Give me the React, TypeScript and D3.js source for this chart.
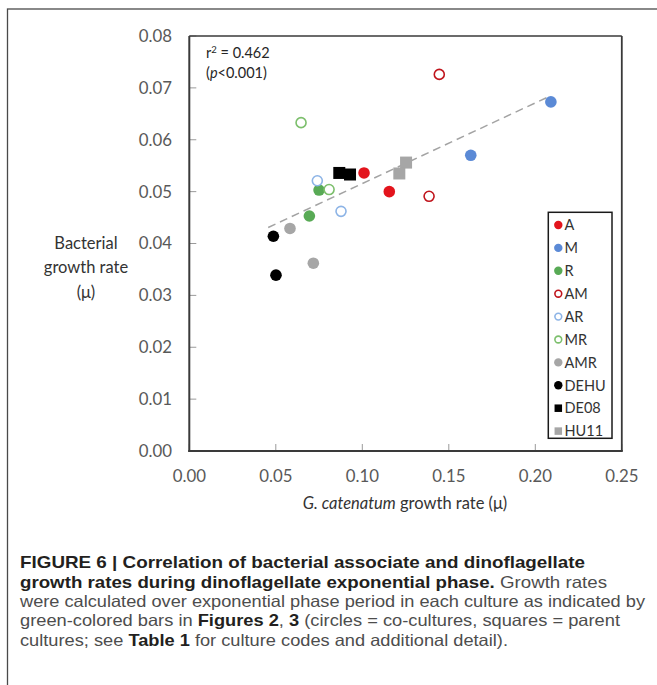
import React from "react";
import * as d3 from "d3";

// Culture groups and their paired growth-rate measurements (μ, per day)
const groups = ["A", "M", "R", "AM", "AR", "MR", "AMR", "DEHU", "DE08", "HU11"];
const dinoRate: number[][] = [
  [0.101, 0.1156],
  [0.209, 0.1627],
  [0.075, 0.0694],
  [0.1445, 0.1386],
  [0.074, 0.0877],
  [0.0646, 0.0808],
  [0.0582, 0.0717],
  [0.0486, 0.0501],
  [0.0867, 0.0929],
  [0.1253, 0.1214],
];
const bactRate: number[][] = [
  [0.0536, 0.05],
  [0.0673, 0.057],
  [0.0503, 0.0453],
  [0.0726, 0.0491],
  [0.0521, 0.0462],
  [0.0633, 0.0504],
  [0.0429, 0.0362],
  [0.0414, 0.0339],
  [0.0536, 0.0533],
  [0.0556, 0.0535],
];
const xTicks = [0, 0.05, 0.1, 0.15, 0.2, 0.25];
const yTicks = [0, 0.01, 0.02, 0.03, 0.04, 0.05, 0.06, 0.07, 0.08];
const statLines = ["r² = 0.462", "(p<0.001)"];

// Marker styling per group
const groupColor = ["#e3141c", "#5b8ad6", "#58aa55", "#c0141c", "#8db4e6", "#7cbf6c", "#a6a6a6", "#000000", "#000000", "#a6a6a6"];
const groupFilled = [true, true, true, false, false, false, true, true, true, true];
const groupSquare = [false, false, false, false, false, false, false, false, true, true];

const W = 657;
const H = 685;
const plot = { left: 189.3, right: 621.8, top: 36, bottom: 451 };

const tickFont = "Lato, 'Open Sans', sans-serif";
const capFont = "'Liberation Sans', Arial, sans-serif";

export default function App() {
  const x = d3.scaleLinear().domain([0, 0.25]).range([plot.left, plot.right]);
  const y = d3.scaleLinear().domain([0, 0.08]).range([plot.bottom, plot.top]);

  const points = groups.flatMap((g, gi) =>
    dinoRate[gi].map((dx, k) => ({ gi, dx, by: bactRate[gi][k] }))
  );

  // Least-squares trend line across all cultures
  const mx = d3.mean(points, (p) => p.dx) as number;
  const my = d3.mean(points, (p) => p.by) as number;
  const sxy = d3.sum(points, (p) => (p.dx - mx) * (p.by - my));
  const sxx = d3.sum(points, (p) => (p.dx - mx) ** 2);
  const slope = sxy / sxx;
  const intercept = my - slope * mx;
  const [xmin, xmax] = d3.extent(points, (p) => p.dx) as [number, number];
  const trend = d3.line<number>()
    .x((v) => x(v))
    .y((v) => y(intercept + slope * v))([xmin - 0.003, xmax]) as string;

  const fmt = d3.format(".2f");

  const marker = (gi: number, cx: number, cy: number, r: number, sq: number, key: string) => {
    if (groupSquare[gi]) {
      return <rect key={key} x={cx - sq / 2} y={cy - sq / 2} width={sq} height={sq} fill={groupColor[gi]} />;
    }
    if (groupFilled[gi]) {
      return <circle key={key} cx={cx} cy={cy} r={r} fill={groupColor[gi]} />;
    }
    return <circle key={key} cx={cx} cy={cy} r={r - 0.8} fill="#fff" stroke={groupColor[gi]} strokeWidth={1.6} />;
  };

  const legend = { x: 548.3, y: 212.3, w: 63.7, h: 226, row0: 225, step: 22.9 };

  const capX = 20;
  const capBase = [568.3, 587.7, 607, 626.4, 645.8];
  const bold = { fontWeight: 700, fill: "#231f20" } as const;
  const reg = { fontWeight: 400, fill: "#4d4d4d" } as const;

  return (
    <div style={{ position: "absolute", left: 0, top: 0 }}>
      <svg width={W} height={H} viewBox={`0 0 ${W} ${H}`} style={{ display: "block", background: "#fff" }}>
        {/* figure frame */}
        <rect x={7.5} y={9} width={700} height={700} fill="none" stroke="#4a4a4a" strokeWidth={1.3} />

        {/* y tick labels and marks */}
        {yTicks.map((t) => (
          <g key={`y${t}`}>
            <line x1={plot.left} x2={plot.left + 7} y1={y(t)} y2={y(t)} stroke="#9a9a9a" strokeWidth={1} />
            <text x={172} y={y(t)} dy="0.35em" textAnchor="end" fontFamily={tickFont} fontSize={16.8} fill="#595959">
              {fmt(t)}
            </text>
          </g>
        ))}
        {/* x tick labels and marks */}
        {xTicks.map((t) => (
          <g key={`x${t}`}>
            <line x1={x(t)} x2={x(t)} y1={plot.bottom} y2={plot.bottom - 7} stroke="#9a9a9a" strokeWidth={1} />
            <text x={x(t)} y={482} textAnchor="middle" fontFamily={tickFont} fontSize={16.8} fill="#595959">
              {fmt(t)}
            </text>
          </g>
        ))}

        {/* plot box */}
        <line x1={plot.left} x2={plot.right} y1={plot.top} y2={plot.top} stroke="#3a3a3a" strokeWidth={1.4} />
        <line x1={plot.right} x2={plot.right} y1={plot.top} y2={plot.bottom} stroke="#3a3a3a" strokeWidth={1.8} />
        <line x1={plot.left} x2={plot.left} y1={plot.top} y2={plot.bottom + 1} stroke="#3a3a3a" strokeWidth={2} />
        <line x1={plot.left - 1} x2={plot.right + 1} y1={plot.bottom} y2={plot.bottom} stroke="#3a3a3a" strokeWidth={2} />

        {/* trend line */}
        <path d={trend} fill="none" stroke="#a3a3a3" strokeWidth={1.5} strokeDasharray="8 5" />

        {/* data points */}
        {points.map((p, i) => marker(p.gi, x(p.dx), y(p.by), 5.8, 12, `p${i}`))}

        {/* statistics */}
        <text x={206} y={58} fontFamily={tickFont} fontSize={14.5} fill="#262626">
          r<tspan dy={-5} fontSize={9.5}>2</tspan>
          <tspan dy={5}>{statLines[0].slice(2)}</tspan>
        </text>
        <text x={206} y={78} fontFamily={tickFont} fontSize={14.5} fill="#262626">
          (<tspan fontStyle="italic">p</tspan>
          {statLines[1].slice(2)}
        </text>

        {/* legend */}
        <rect x={legend.x} y={legend.y} width={legend.w} height={legend.h} fill="#fff" stroke="#1a1a1a" strokeWidth={1.5} />
        {groups.map((g, gi) => {
          const ly = legend.row0 + gi * legend.step;
          return (
            <g key={`l${g}`}>
              {marker(gi, 558.3, ly, 4.2, 7.5, `lm${g}`)}
              <text x={564.5} y={ly} dy="0.36em" fontFamily={tickFont} fontSize={14.5} fill="#333">
                {g}
              </text>
            </g>
          );
        })}

        {/* axis titles */}
        <g fontFamily={tickFont} fontSize={16.5} fill="#333" textAnchor="middle">
          <text x={86} y={249}>Bacterial</text>
          <text x={86} y={273}>growth rate</text>
          <text x={86} y={298}>(μ)</text>
        </g>
        <text x={405} y={509} textAnchor="middle" fontFamily={tickFont} fontSize={16.5} fill="#333">
          <tspan fontStyle="italic">G. catenatum</tspan> growth rate (μ)
        </text>

        {/* caption */}
        <g fontFamily={capFont} fontSize={16.5}>
          <text x={capX} y={capBase[0]} textLength={565} lengthAdjust="spacingAndGlyphs">
            <tspan {...bold}>FIGURE 6 | Correlation of bacterial associate and dinoflagellate</tspan>
          </text>
          <text x={capX} y={capBase[1]} textLength={587} lengthAdjust="spacingAndGlyphs">
            <tspan {...bold}>growth rates during dinoflagellate exponential phase.</tspan>
            <tspan {...reg}> Growth rates</tspan>
          </text>
          <text x={capX} y={capBase[2]} textLength={625} lengthAdjust="spacingAndGlyphs">
            <tspan {...reg}>were calculated over exponential phase period in each culture as indicated by</tspan>
          </text>
          <text x={capX} y={capBase[3]} textLength={600} lengthAdjust="spacingAndGlyphs">
            <tspan {...reg}>green-colored bars in </tspan>
            <tspan {...bold}>Figures 2</tspan>
            <tspan {...reg}>, </tspan>
            <tspan {...bold}>3</tspan>
            <tspan {...reg}> (circles = co-cultures, squares = parent</tspan>
          </text>
          <text x={capX} y={capBase[4]} textLength={488} lengthAdjust="spacingAndGlyphs">
            <tspan {...reg}>cultures; see </tspan>
            <tspan {...bold}>Table 1</tspan>
            <tspan {...reg}> for culture codes and additional detail).</tspan>
          </text>
        </g>
      </svg>
    </div>
  );
}
